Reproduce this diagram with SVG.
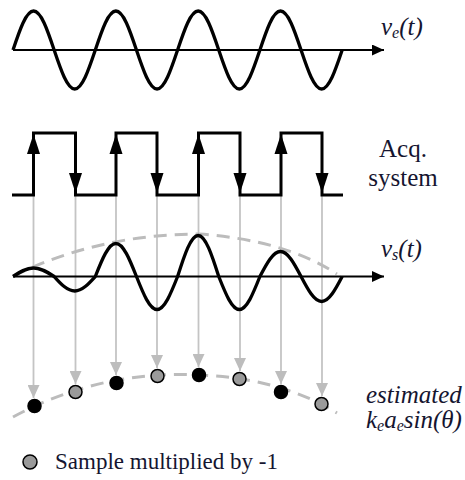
<svg xmlns="http://www.w3.org/2000/svg" width="465" height="480" viewBox="0 0 465 480">
<style>
.wave{fill:none;stroke:#000;stroke-width:3.3;stroke-linejoin:round}
.axis{fill:none;stroke:#000;stroke-width:2}
.sq{fill:none;stroke:#000;stroke-width:3;stroke-linejoin:miter}
.env{fill:none;stroke:#bcbcbc;stroke-width:3;stroke-dasharray:13 8}
.samp{fill:none;stroke:#c4c4c4;stroke-width:1.8}
.lbl{fill:#151530;font-family:"Liberation Serif","Times New Roman",serif}
.it{font-style:italic}
.blk{fill:#000;stroke:#000;stroke-width:1.5}
.gry{fill:#9a9a9a;stroke:#000;stroke-width:1.5}
</style>
<defs>
<marker id="axHead" viewBox="0 0 12 11" refX="12" refY="5.5" markerWidth="12" markerHeight="11" markerUnits="userSpaceOnUse" orient="auto"><path d="M0,0 L12,5.5 L0,11 Z" fill="#000"/></marker>
<marker id="grayHead" viewBox="0 0 13 12" refX="13" refY="6" markerWidth="13" markerHeight="12" markerUnits="userSpaceOnUse" orient="auto"><path d="M0,0 L13,6 L0,12 Z" fill="#bdbdbd"/></marker>
<path id="upHead" d="M0,0 L-6.5,20 L6.5,20 Z" fill="#000"/>
<path id="downHead" d="M0,0 L-6.5,-20 L6.5,-20 Z" fill="#000"/>
</defs>

<g id="connectors">
<line class="samp" x1="33.5" y1="196" x2="33.5" y2="398" marker-end="url(#grayHead)"/>
<line class="samp" x1="75.5" y1="196" x2="75.5" y2="384" marker-end="url(#grayHead)"/>
<line class="samp" x1="116" y1="196" x2="116" y2="375" marker-end="url(#grayHead)"/>
<line class="samp" x1="157" y1="196" x2="157" y2="368" marker-end="url(#grayHead)"/>
<line class="samp" x1="198.5" y1="196" x2="198.5" y2="367" marker-end="url(#grayHead)"/>
<line class="samp" x1="240" y1="196" x2="240" y2="371" marker-end="url(#grayHead)"/>
<line class="samp" x1="281" y1="196" x2="281" y2="384" marker-end="url(#grayHead)"/>
<line class="samp" x1="322" y1="196" x2="322" y2="396" marker-end="url(#grayHead)"/>
</g>

<g id="ve-signal">
<line class="axis" x1="13" y1="50" x2="384" y2="50" marker-end="url(#axHead)"/>
<path class="wave" d="M13,50 C19.71,30.03 26.13,11 33.58,11 C41.02,11 47.44,30.03 54.15,50 C60.86,69.97 67.28,89 74.73,89 C82.17,89 88.59,69.97 95.3,50 C102.01,30.03 108.43,11 115.88,11 C123.32,11 129.74,30.03 136.45,50 C143.16,69.97 149.58,89 157.03,89 C164.47,89 170.89,69.97 177.6,50 C184.31,30.03 190.73,11 198.18,11 C205.62,11 212.04,30.03 218.75,50 C225.46,69.97 231.88,89 239.33,89 C246.77,89 253.19,69.97 259.9,50 C266.61,30.03 273.03,11 280.48,11 C287.92,11 294.34,30.03 301.05,50 C307.76,69.97 314.18,89 321.63,89 C329.07,89 335.49,69.97 342.2,50"/>
<text class="lbl it" x="381" y="35" font-size="25">v<tspan font-size="16" dy="3">e</tspan><tspan dy="-3">(t)</tspan></text>
</g>

<g id="acq-system">
<path class="sq" d="M12,195 H33.5 V133 H75.5 V195 H116 V133 H157 V195 H198.5 V133 H240 V195 H281 V133 H322 V195 H343"/>
<use href="#upHead" x="33.5" y="134"/>
<use href="#upHead" x="116" y="134"/>
<use href="#upHead" x="198.5" y="134"/>
<use href="#upHead" x="281" y="134"/>
<use href="#downHead" x="75.5" y="193"/>
<use href="#downHead" x="157" y="193"/>
<use href="#downHead" x="240" y="193"/>
<use href="#downHead" x="322" y="193"/>
<text class="lbl" x="403" y="157" font-size="25" text-anchor="middle">Acq.</text>
<text class="lbl" x="403" y="186" font-size="25" text-anchor="middle">system</text>
</g>

<g id="vs-signal">
<path class="env" d="M13,276 Q100,234 199,234 Q285,240 337,274"/>
<line class="axis" x1="13" y1="276.5" x2="384" y2="276.5" marker-end="url(#axHead)"/>
<path class="wave" d="M13,276.5 C19.71,272.15 26.13,268 33.58,268 C41.02,268 47.44,272.15 54.15,276.5 C60.86,283.9 67.28,291 74.73,291 C82.17,291 88.59,283.9 95.3,276.5 C102.01,259.6 108.43,243.5 115.88,243.5 C123.32,243.5 129.74,259.6 136.45,276.5 C143.16,293.4 149.58,309.5 157.03,309.5 C164.47,309.5 170.89,293.4 177.6,276.5 C184.31,255.5 190.73,235.5 198.18,235.5 C205.62,235.5 212.04,255.5 218.75,276.5 C225.46,293.4 231.88,309.5 239.33,309.5 C246.77,309.5 253.19,293.4 259.9,276.5 C266.61,263.7 273.03,251.5 280.48,251.5 C287.92,251.5 294.34,263.7 301.05,276.5 C307.76,289.3 314.18,301.5 321.63,301.5 C329.07,301.5 335.49,289.3 342.2,276.5"/>
<text class="lbl it" x="381" y="257" font-size="25">v<tspan font-size="16" dy="3">s</tspan><tspan dy="-3">(t)</tspan></text>
</g>

<g id="samples">
<path class="env" d="M13,417 Q100,370 199,375 Q280,378 337,413" stroke-dasharray="12 9"/>
<circle class="blk" cx="34.5" cy="406" r="6.5"/>
<circle class="gry" cx="75.5" cy="392" r="6.5"/>
<circle class="blk" cx="116.5" cy="383" r="6.5"/>
<circle class="gry" cx="157.5" cy="376" r="6.5"/>
<circle class="blk" cx="199" cy="375" r="6.5"/>
<circle class="gry" cx="239.5" cy="379" r="6.5"/>
<circle class="blk" cx="281" cy="392" r="6.5"/>
<circle class="gry" cx="321.5" cy="404" r="6.5"/>
<text class="lbl it" x="366" y="403" font-size="25">estimated</text>
<text class="lbl it" x="366" y="428" font-size="25">k<tspan font-size="16" dy="3">e</tspan><tspan dy="-3">a</tspan><tspan font-size="16" dy="3">e</tspan><tspan dy="-3">sin(θ)</tspan></text>
</g>

<g id="legend">
<circle class="gry" cx="30" cy="462" r="7"/>
<text class="lbl" x="55" y="469" font-size="23">Sample multiplied by -1</text>
</g>
</svg>
